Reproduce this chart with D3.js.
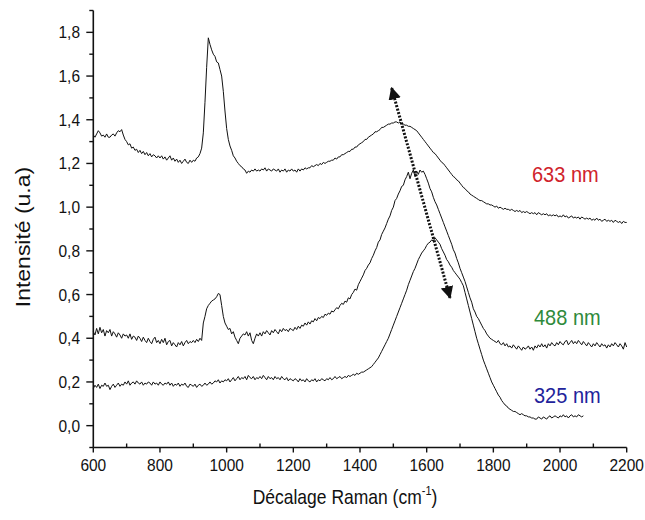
<!DOCTYPE html>
<html><head><meta charset="utf-8">
<script src="https://cdn.jsdelivr.net/npm/d3@7"></script>
<style>
body{margin:0;background:#fff}
svg{display:block}
text{font-family:"Liberation Sans",Arial,sans-serif}
</style>
</head><body>
<svg id="c" width="645" height="520"></svg>
<script>
// ---------- data ----------
const xTickValues = [600, 800, 1000, 1200, 1400, 1600, 1800, 2000, 2200];
const yTickValues = [0.0, 0.2, 0.4, 0.6, 0.8, 1.0, 1.2, 1.4, 1.6, 1.8];
const seriesNames = ["633 nm", "488 nm", "325 nm"];
const sampleStep = 5;      // cm-1 between points
const spectrumStart = 600; // first Raman shift of each spectrum

const int633 = [
1.33,1.32,1.335,1.35,1.34,1.325,1.33,1.32,1.335,1.32,
1.32,1.33,1.335,1.325,1.34,1.35,1.345,1.355,1.33,1.31,
1.30,1.285,1.29,1.27,1.275,1.26,1.265,1.25,1.26,1.245,
1.255,1.24,1.25,1.235,1.245,1.23,1.24,1.235,1.225,1.235,
1.225,1.235,1.22,1.23,1.215,1.225,1.235,1.215,1.225,1.21,
1.22,1.205,1.215,1.20,1.21,1.22,1.205,1.20,1.215,1.205,
1.215,1.21,1.225,1.23,1.245,1.27,1.34,1.48,1.64,1.775,
1.745,1.72,1.70,1.69,1.665,1.66,1.63,1.60,1.53,1.44,
1.36,1.31,1.28,1.26,1.235,1.225,1.21,1.20,1.19,1.185,
1.175,1.17,1.155,1.165,1.16,1.17,1.165,1.175,1.165,1.17,
1.165,1.175,1.17,1.18,1.165,1.175,1.17,1.165,1.175,1.17,
1.165,1.175,1.16,1.17,1.165,1.175,1.16,1.17,1.165,1.175,
1.165,1.17,1.16,1.175,1.165,1.175,1.17,1.18,1.175,1.18,
1.18,1.19,1.185,1.19,1.195,1.19,1.20,1.195,1.205,1.20,
1.205,1.21,1.21,1.215,1.215,1.225,1.22,1.23,1.23,1.24,
1.24,1.245,1.25,1.255,1.255,1.265,1.265,1.275,1.275,1.285,
1.29,1.295,1.30,1.31,1.31,1.32,1.325,1.33,1.335,1.345,
1.345,1.35,1.355,1.365,1.365,1.37,1.375,1.38,1.38,1.385,
1.385,1.39,1.39,1.385,1.39,1.38,1.38,1.375,1.375,1.37,
1.37,1.365,1.36,1.355,1.35,1.34,1.33,1.32,1.31,1.30,
1.29,1.28,1.27,1.26,1.25,1.245,1.235,1.225,1.215,1.205,
1.20,1.19,1.18,1.17,1.16,1.15,1.14,1.135,1.125,1.12,
1.11,1.10,1.09,1.085,1.075,1.07,1.06,1.055,1.05,1.045,
1.04,1.035,1.03,1.03,1.025,1.02,1.015,1.015,1.01,1.01,
1.005,1.00,1.005,0.995,1.00,0.995,0.99,0.995,0.99,0.99,
0.985,0.99,0.985,0.98,0.985,0.98,0.985,0.975,0.98,0.975,
0.98,0.975,0.97,0.975,0.97,0.975,0.965,0.975,0.97,0.965,
0.97,0.965,0.97,0.96,0.965,0.96,0.965,0.96,0.965,0.955,
0.96,0.955,0.965,0.955,0.96,0.95,0.955,0.96,0.95,0.955,
0.95,0.955,0.945,0.955,0.95,0.945,0.95,0.945,0.95,0.94,
0.945,0.94,0.95,0.94,0.945,0.935,0.94,0.945,0.935,0.94,
0.935,0.94,0.93,0.94,0.935,0.93,0.935,0.925,0.935,0.93,
0.93];

const int488 = [
0.43,0.415,0.445,0.42,0.45,0.425,0.44,0.41,0.435,0.425,
0.44,0.41,0.43,0.42,0.405,0.425,0.415,0.40,0.42,0.41,
0.415,0.40,0.42,0.395,0.41,0.405,0.39,0.41,0.40,0.385,
0.405,0.39,0.38,0.40,0.385,0.375,0.395,0.405,0.38,0.39,
0.375,0.395,0.38,0.40,0.37,0.385,0.39,0.365,0.38,0.37,
0.36,0.38,0.37,0.385,0.365,0.38,0.39,0.375,0.385,0.38,
0.39,0.38,0.395,0.385,0.40,0.39,0.47,0.50,0.535,0.55,
0.56,0.57,0.575,0.58,0.59,0.605,0.60,0.55,0.50,0.47,
0.455,0.44,0.445,0.42,0.43,0.405,0.39,0.375,0.40,0.41,
0.42,0.415,0.43,0.41,0.425,0.39,0.375,0.40,0.42,0.41,
0.425,0.41,0.43,0.42,0.435,0.425,0.415,0.435,0.425,0.44,
0.43,0.42,0.44,0.43,0.445,0.435,0.44,0.43,0.445,0.44,
0.435,0.45,0.44,0.455,0.445,0.46,0.455,0.47,0.46,0.475,
0.465,0.48,0.475,0.49,0.48,0.495,0.49,0.50,0.495,0.51,
0.505,0.515,0.51,0.525,0.52,0.53,0.54,0.535,0.55,0.56,
0.555,0.57,0.565,0.585,0.58,0.60,0.61,0.625,0.62,0.645,
0.66,0.675,0.69,0.71,0.72,0.735,0.745,0.765,0.78,0.80,
0.815,0.84,0.85,0.875,0.89,0.905,0.925,0.945,0.96,0.985,
1.00,1.03,1.04,1.06,1.075,1.095,1.10,1.125,1.14,1.16,
1.13,1.155,1.17,1.14,1.165,1.15,1.17,1.16,1.165,1.15,
1.13,1.11,1.085,1.07,1.045,1.025,1.01,0.99,0.97,0.95,
0.93,0.91,0.89,0.87,0.85,0.83,0.805,0.79,0.765,0.745,
0.72,0.70,0.68,0.66,0.635,0.61,0.585,0.565,0.535,0.52,
0.50,0.49,0.475,0.46,0.445,0.435,0.42,0.41,0.40,0.395,
0.39,0.385,0.38,0.39,0.375,0.37,0.38,0.365,0.375,0.36,
0.365,0.355,0.37,0.36,0.35,0.365,0.355,0.345,0.36,0.35,
0.355,0.365,0.35,0.36,0.345,0.365,0.355,0.37,0.36,0.375,
0.36,0.37,0.355,0.375,0.365,0.38,0.37,0.365,0.38,0.37,
0.385,0.375,0.37,0.385,0.39,0.37,0.38,0.39,0.375,0.385,
0.375,0.39,0.38,0.37,0.385,0.375,0.365,0.38,0.37,0.36,
0.375,0.365,0.38,0.37,0.36,0.375,0.365,0.37,0.355,0.37,
0.36,0.375,0.365,0.38,0.37,0.36,0.375,0.365,0.35,0.38,
0.36];

const int325 = [
0.17,0.185,0.175,0.19,0.17,0.185,0.18,0.195,0.18,0.185,
0.165,0.18,0.19,0.175,0.185,0.195,0.18,0.19,0.185,0.20,
0.19,0.205,0.185,0.195,0.20,0.19,0.205,0.195,0.19,0.20,
0.185,0.195,0.19,0.20,0.195,0.185,0.20,0.19,0.195,0.185,
0.20,0.19,0.185,0.195,0.19,0.20,0.185,0.195,0.18,0.19,
0.185,0.195,0.18,0.19,0.185,0.195,0.18,0.175,0.19,0.185,
0.18,0.19,0.175,0.185,0.19,0.18,0.185,0.195,0.185,0.19,
0.20,0.19,0.195,0.205,0.20,0.21,0.195,0.205,0.20,0.21,
0.205,0.215,0.20,0.21,0.22,0.205,0.215,0.225,0.21,0.22,
0.215,0.225,0.21,0.23,0.22,0.215,0.225,0.21,0.22,0.215,
0.225,0.215,0.23,0.22,0.21,0.225,0.215,0.22,0.21,0.225,
0.215,0.22,0.21,0.225,0.215,0.21,0.22,0.205,0.215,0.21,
0.205,0.215,0.21,0.20,0.215,0.205,0.21,0.20,0.215,0.205,
0.20,0.21,0.205,0.215,0.20,0.21,0.205,0.215,0.21,0.205,
0.215,0.21,0.22,0.21,0.215,0.225,0.215,0.22,0.225,0.215,
0.22,0.225,0.22,0.23,0.225,0.23,0.235,0.23,0.24,0.235,
0.24,0.245,0.245,0.25,0.255,0.26,0.265,0.27,0.28,0.29,
0.30,0.31,0.325,0.34,0.355,0.37,0.385,0.40,0.42,0.44,
0.46,0.48,0.50,0.52,0.54,0.56,0.58,0.60,0.62,0.645,
0.665,0.685,0.705,0.72,0.74,0.76,0.775,0.79,0.80,0.81,
0.825,0.835,0.84,0.85,0.845,0.86,0.85,0.84,0.83,0.81,
0.795,0.78,0.76,0.75,0.735,0.725,0.71,0.70,0.69,0.68,
0.67,0.655,0.64,0.61,0.58,0.55,0.52,0.49,0.46,0.43,
0.40,0.375,0.35,0.325,0.30,0.28,0.26,0.24,0.22,0.20,
0.185,0.17,0.155,0.14,0.13,0.115,0.105,0.095,0.09,0.08,
0.075,0.07,0.065,0.065,0.06,0.055,0.05,0.055,0.05,0.045,
0.045,0.04,0.04,0.035,0.035,0.03,0.03,0.04,0.035,0.03,
0.04,0.035,0.03,0.04,0.045,0.035,0.04,0.045,0.04,0.035,
0.045,0.04,0.05,0.04,0.045,0.035,0.045,0.05,0.04,0.045,
0.04,0.05,0.045,0.04,0.045];

// arrow (shift, intensity) end points
const arrowFrom = [1670, 0.585];
const arrowTo = [1495, 1.545];

// ---------- drawing ----------
const svg = d3.select("#c");
const x = d3.scaleLinear().domain([600, 2200]).range([93.3, 626.7]);
const y = d3.scaleLinear().domain([-0.1, 1.9]).range([447.5, 10.5]);
const ink = "#111";
const colors = ["#d0232b", "#2f8a3b", "#22239b"];

function stretchedText(g, tx, ty, str, size, anchor, sy, fill) {
  return g.append("text")
    .attr("transform", `translate(${tx},${ty}) scale(1,${sy})`)
    .attr("text-anchor", anchor)
    .attr("font-size", size)
    .attr("fill", fill || ink)
    .text(str);
}

// axes lines
svg.append("line").attr("x1", x(600)).attr("x2", x(600))
  .attr("y1", y(1.9)).attr("y2", y(-0.1)).attr("stroke", ink).attr("stroke-width", 1.6);
svg.append("line").attr("x1", x(600)).attr("x2", x(2200))
  .attr("y1", y(-0.1)).attr("y2", y(-0.1)).attr("stroke", ink).attr("stroke-width", 1.6);

// y ticks
const yMinor = d3.range(-1, 20, 2).map(d => d / 10);
svg.append("g").selectAll("line").data(yMinor).join("line")
  .attr("x1", x(600) - 4).attr("x2", x(600)).attr("y1", d => y(d)).attr("y2", d => y(d))
  .attr("stroke", ink).attr("stroke-width", 1.4);
svg.append("g").selectAll("line").data(yTickValues).join("line")
  .attr("x1", x(600) - 7).attr("x2", x(600)).attr("y1", d => y(d)).attr("y2", d => y(d))
  .attr("stroke", ink).attr("stroke-width", 1.4);
const fmt = d => d3.format(".1f")(d).replace(".", ",");
const yl = svg.append("g");
yTickValues.forEach(d => stretchedText(yl, 80, y(d) + 6, fmt(d), 15.5, "end", 1.12));

// x ticks
const xMinor = d3.range(700, 2200, 200);
svg.append("g").selectAll("line").data(xMinor).join("line")
  .attr("x1", d => x(d)).attr("x2", d => x(d)).attr("y1", y(-0.1) - 4).attr("y2", y(-0.1))
  .attr("stroke", ink).attr("stroke-width", 1.4);
svg.append("g").selectAll("line").data(xTickValues).join("line")
  .attr("x1", d => x(d)).attr("x2", d => x(d)).attr("y1", y(-0.1)).attr("y2", y(-0.1) + 5)
  .attr("stroke", ink).attr("stroke-width", 1.4);
const xl = svg.append("g");
xTickValues.forEach(d => stretchedText(xl, x(d), 471, String(d), 15.5, "middle", 1.12));

// axis titles
svg.append("text")
  .attr("transform", "translate(30,237) scale(1,1.12) rotate(-90)")
  .attr("text-anchor", "middle").attr("font-size", 20.5).attr("fill", ink)
  .text("Intensité (u.a)");
const xt = svg.append("text")
  .attr("transform", "translate(345,504) scale(1,1.12)")
  .attr("text-anchor", "middle").attr("font-size", 17.5).attr("fill", ink);
xt.append("tspan").text("Décalage Raman (cm");
xt.append("tspan").attr("font-size", 11).attr("dy", -8).text("-1");
xt.append("tspan").attr("dy", 8).text(")");

// spectra
const line = d3.line()
  .x((d, i) => x(spectrumStart + i * sampleStep))
  .y(d => y(d));
[int633, int488, int325].forEach(s => {
  svg.append("path").datum(s).attr("d", line)
    .attr("fill", "none").attr("stroke", ink).attr("stroke-width", 1)
    .attr("stroke-linejoin", "round");
});

// legend labels
const legendPos = [[532, 182], [534, 325], [534, 403]];
const lg = svg.append("g");
seriesNames.forEach((n, i) => stretchedText(lg, legendPos[i][0], legendPos[i][1], n, 20, "start", 1.08, colors[i]));

// dotted double arrow
const defs = svg.append("defs");
defs.append("marker").attr("id", "ah").attr("viewBox", "0 0 10 10")
  .attr("refX", 9).attr("refY", 5).attr("markerWidth", 4.2).attr("markerHeight", 4.2)
  .attr("markerUnits", "strokeWidth").attr("orient", "auto-start-reverse")
  .append("path").attr("d", "M0,0L10,5L0,10z").attr("fill", ink);
svg.append("line")
  .attr("x1", x(arrowFrom[0])).attr("y1", y(arrowFrom[1]))
  .attr("x2", x(arrowTo[0])).attr("y2", y(arrowTo[1]))
  .attr("stroke", ink).attr("stroke-width", 3).attr("stroke-dasharray", "2,1.6")
  .attr("marker-start", "url(#ah)").attr("marker-end", "url(#ah)");
</script>
</body></html>
